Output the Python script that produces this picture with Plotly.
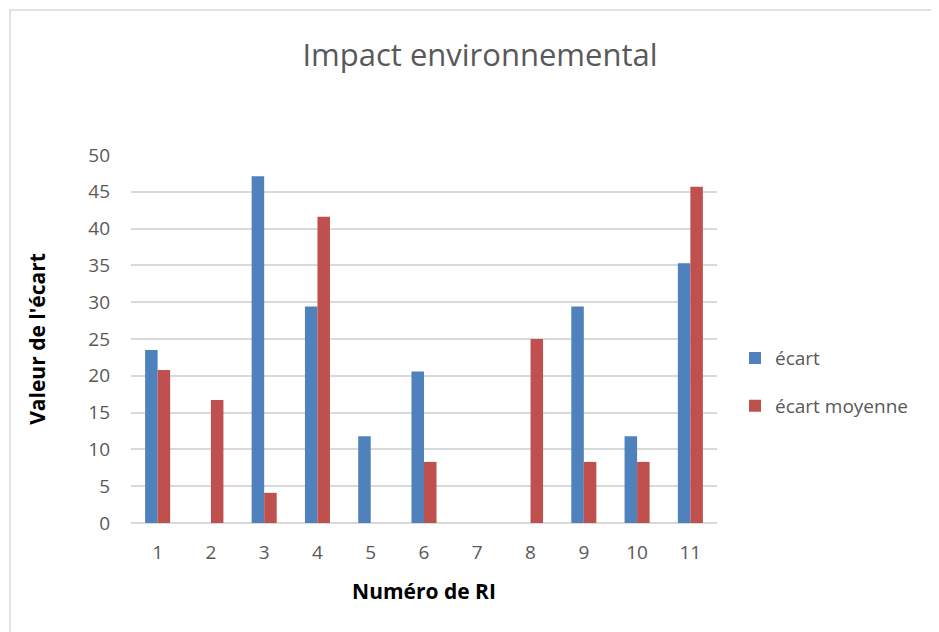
import plotly.graph_objects as go

categories = ["1", "2", "3", "4", "5", "6", "7", "8", "9", "10", "11"]
ecart = [23.5, 0, 47.1, 29.4, 11.8, 20.6, 0, 0, 29.4, 11.8, 35.3]
ecart_moyenne = [20.8, 16.7, 4.1, 41.6, 0, 8.3, 0, 25.0, 8.3, 8.3, 45.7]
y_ticks = [0, 5, 10, 15, 20, 25, 30, 35, 40, 45, 50]

# page has an 8px body margin, so the figure is drawn 8px right/down
OFF = 8
W, H = 939 - OFF, 632 - OFF
L, T = 131 - OFF, 155 - OFF
plot_right, plot_bottom = 717 - OFF, 522.7 - OFF
R, B = W - plot_right, H - plot_bottom
pw, ph = plot_right - L, plot_bottom - T

font = "Open Sans"
fig = go.Figure()
fig.add_trace(go.Bar(x=categories, y=ecart, name="écart",
                     marker=dict(color="#4f81bd", line=dict(width=0)),
                     legendgroup="a"))
fig.add_trace(go.Bar(x=categories, y=ecart_moyenne, name="écart moyenne",
                     marker=dict(color="#c0504d", line=dict(width=0)),
                     legendgroup="b"))

fig.update_layout(
    width=W, height=H,
    margin=dict(l=L, r=R, t=T, b=B),
    paper_bgcolor="white", plot_bgcolor="white",
    barmode="group", bargap=0.53, bargroupgap=0,
    font=dict(family=font, color="#595959"),
    title=dict(text="Impact environnemental", x=(480 - OFF) / W, xanchor="center",
               y=1 - (55 - OFF) / H, yanchor="middle",
               font=dict(size=31, color="#595959", family=font)),
    xaxis=dict(type="category", tickfont=dict(size=19, color="#595959"),
               ticks="", showgrid=False, showline=False, ticklabelstandoff=16,
               title=dict(text="<b>Numéro de RI</b>", font=dict(size=21, color="black"), standoff=20)),
    yaxis=dict(range=[0, 50], tickvals=y_ticks, tickfont=dict(size=19, color="#595959"),
               showgrid=True, gridcolor="#d9d9d9", gridwidth=1.5,
               zeroline=True, zerolinecolor="#d9d9d9", zerolinewidth=1.5,
               ticks="", ticklabelstandoff=20,
               title=dict(text="<b>Valeur de l'écart</b>", font=dict(size=21, color="black"), standoff=36)),
    legend=dict(x=(735 - OFF - L) / pw, xanchor="left", y=(522.7 - 382) / ph, yanchor="middle",
                font=dict(size=19, color="#595959"), traceorder="grouped",
                tracegroupgap=20, itemwidth=30, bgcolor="rgba(0,0,0,0)"),
    shapes=[dict(type="rect", xref="paper", yref="paper",
                 x0=(10 - OFF - L) / pw, x1=(W + 20 - L) / pw,
                 y0=-(B + 20) / ph, y1=(plot_bottom - (10 - OFF)) / ph,
                 line=dict(color="#d9d9d9", width=1.5), layer="below")],
)

fig.write_html("out.html")
